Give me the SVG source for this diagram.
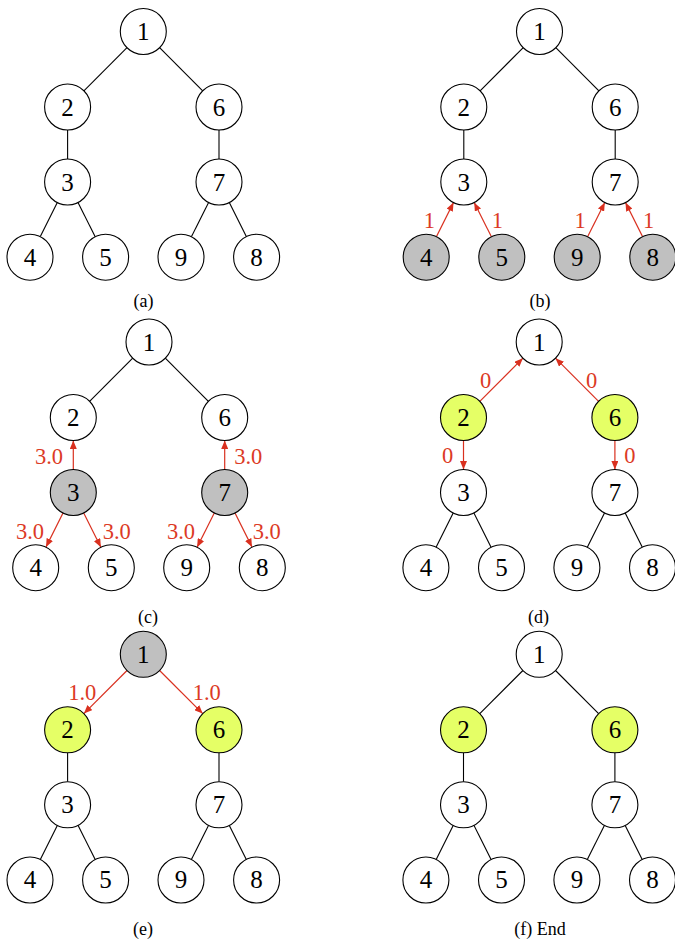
<svg xmlns="http://www.w3.org/2000/svg" width="675" height="947" viewBox="0 0 675 947">
  <style>
    .bg { fill: #ffffff; }
    .node circle { fill: #ffffff; stroke: #000000; stroke-width: 1.1; }
    .node.gray circle { fill: #c0c0c0; }
    .node.lime circle { fill: #e5ff66; }
    .node text { font-family: "Liberation Serif", "Times New Roman", serif; font-size: 25px; text-anchor: middle; fill: #000000; }
    .edge { stroke: #000000; stroke-width: 1.1; fill: none; }
    .arrow { stroke: #d9301f; stroke-width: 1.2; fill: none; marker-end: url(#head); }
    .w { font-family: "Liberation Serif", "Times New Roman", serif; font-size: 22.5px; text-anchor: middle; fill: #dc3a25; }
    .cap { font-family: "Liberation Serif", "Times New Roman", serif; font-size: 18px; text-anchor: middle; fill: #000000; }
  </style>
  <defs>
    <marker id="head" markerWidth="9" markerHeight="7" refX="8.5" refY="3.5" orient="auto" markerUnits="userSpaceOnUse">
      <path d="M0,0 L8.5,3.5 L0,7 z" fill="#d9301f"/>
    </marker>
  </defs>
  <rect class="bg" width="675" height="947"/>

  <!-- (a) plain tree -->
  <g id="panel-a" transform="translate(143.3,31.5)">
    <g id="a-connectors">
      <line class="edge" x1="-16.3" y1="16.2" x2="-59.4" y2="59.3"/>
      <line class="edge" x1="16.3" y1="16.2" x2="59.4" y2="59.3"/>
      <line class="edge" x1="-75.7" y1="98.5" x2="-75.7" y2="127.5"/>
      <line class="edge" x1="75.7" y1="98.5" x2="75.7" y2="127.5"/>
      <line class="edge" x1="-86" y1="171.1" x2="-103" y2="205.1"/>
      <line class="edge" x1="-65.3" y1="171" x2="-48.1" y2="205.2"/>
      <line class="edge" x1="65.3" y1="171" x2="48.1" y2="205.2"/>
      <line class="edge" x1="86" y1="171.1" x2="103" y2="205.1"/>
    </g>
    <g id="a-n1" class="node"><circle cx="0" cy="0" r="23"/><text x="0" y="8.5">1</text></g>
    <g id="a-n2" class="node"><circle cx="-75.7" cy="75.5" r="23"/><text x="-75.7" y="84">2</text></g>
    <g id="a-n6" class="node"><circle cx="75.7" cy="75.5" r="23"/><text x="75.7" y="84">6</text></g>
    <g id="a-n3" class="node"><circle cx="-75.7" cy="150.5" r="23"/><text x="-75.7" y="159">3</text></g>
    <g id="a-n7" class="node"><circle cx="75.7" cy="150.5" r="23"/><text x="75.7" y="159">7</text></g>
    <g id="a-n4" class="node"><circle cx="-113.3" cy="225.7" r="23"/><text x="-113.3" y="234.2">4</text></g>
    <g id="a-n5" class="node"><circle cx="-37.7" cy="225.7" r="23"/><text x="-37.7" y="234.2">5</text></g>
    <g id="a-n9" class="node"><circle cx="37.7" cy="225.7" r="23"/><text x="37.7" y="234.2">9</text></g>
    <g id="a-n8" class="node"><circle cx="113.3" cy="225.7" r="23"/><text x="113.3" y="234.2">8</text></g>
  </g>
  <text class="cap" x="143.5" y="307">(a)</text>

  <!-- (b) leaves send weight 1 to their parents -->
  <g id="panel-b" transform="translate(539.5,31.5)">
    <g id="b-connectors">
      <line class="edge" x1="-16.3" y1="16.2" x2="-59.4" y2="59.3"/>
      <line class="edge" x1="16.3" y1="16.2" x2="59.4" y2="59.3"/>
      <line class="edge" x1="-75.7" y1="98.5" x2="-75.7" y2="127.5"/>
      <line class="edge" x1="75.7" y1="98.5" x2="75.7" y2="127.5"/>
      <line class="arrow" x1="-103" y1="205.1" x2="-86" y2="171.1"/>
      <line class="arrow" x1="-48.1" y1="205.2" x2="-65.3" y2="171"/>
      <line class="arrow" x1="48.1" y1="205.2" x2="65.3" y2="171"/>
      <line class="arrow" x1="103" y1="205.1" x2="86" y2="171.1"/>
      <text class="w" x="-110.2" y="196">1</text>
      <text class="w" x="-42.2" y="196">1</text>
      <text class="w" x="40.5" y="196">1</text>
      <text class="w" x="109.2" y="196">1</text>
    </g>
    <g id="b-n1" class="node"><circle cx="0" cy="0" r="23"/><text x="0" y="8.5">1</text></g>
    <g id="b-n2" class="node"><circle cx="-75.7" cy="75.5" r="23"/><text x="-75.7" y="84">2</text></g>
    <g id="b-n6" class="node"><circle cx="75.7" cy="75.5" r="23"/><text x="75.7" y="84">6</text></g>
    <g id="b-n3" class="node"><circle cx="-75.7" cy="150.5" r="23"/><text x="-75.7" y="159">3</text></g>
    <g id="b-n7" class="node"><circle cx="75.7" cy="150.5" r="23"/><text x="75.7" y="159">7</text></g>
    <g id="b-n4" class="node gray"><circle cx="-113.3" cy="225.7" r="23"/><text x="-113.3" y="234.2">4</text></g>
    <g id="b-n5" class="node gray"><circle cx="-37.7" cy="225.7" r="23"/><text x="-37.7" y="234.2">5</text></g>
    <g id="b-n9" class="node gray"><circle cx="37.7" cy="225.7" r="23"/><text x="37.7" y="234.2">9</text></g>
    <g id="b-n8" class="node gray"><circle cx="113.3" cy="225.7" r="23"/><text x="113.3" y="234.2">8</text></g>
  </g>
  <text class="cap" x="540" y="307">(b)</text>

  <!-- (c) nodes 3 and 7 spread 3.0 to all neighbours -->
  <g id="panel-c" transform="translate(149,342)">
    <g id="c-connectors">
      <line class="edge" x1="-16.3" y1="16.2" x2="-59.4" y2="59.3"/>
      <line class="edge" x1="16.3" y1="16.2" x2="59.4" y2="59.3"/>
      <line class="arrow" x1="-75.7" y1="127.5" x2="-75.7" y2="98.5"/>
      <line class="arrow" x1="75.7" y1="127.5" x2="75.7" y2="98.5"/>
      <line class="arrow" x1="-86" y1="171.1" x2="-103" y2="205.1"/>
      <line class="arrow" x1="-65.3" y1="171" x2="-48.1" y2="205.2"/>
      <line class="arrow" x1="65.3" y1="171" x2="48.1" y2="205.2"/>
      <line class="arrow" x1="86" y1="171.1" x2="103" y2="205.1"/>
      <text class="w" x="-100" y="122.2">3.0</text>
      <text class="w" x="99.3" y="122.2">3.0</text>
      <text class="w" x="-119" y="197.2">3.0</text>
      <text class="w" x="-32.3" y="197.2">3.0</text>
      <text class="w" x="32" y="197.2">3.0</text>
      <text class="w" x="117.7" y="197.2">3.0</text>
    </g>
    <g id="c-n1" class="node"><circle cx="0" cy="0" r="23"/><text x="0" y="8.5">1</text></g>
    <g id="c-n2" class="node"><circle cx="-75.7" cy="75.5" r="23"/><text x="-75.7" y="84">2</text></g>
    <g id="c-n6" class="node"><circle cx="75.7" cy="75.5" r="23"/><text x="75.7" y="84">6</text></g>
    <g id="c-n3" class="node gray"><circle cx="-75.7" cy="150.5" r="23"/><text x="-75.7" y="159">3</text></g>
    <g id="c-n7" class="node gray"><circle cx="75.7" cy="150.5" r="23"/><text x="75.7" y="159">7</text></g>
    <g id="c-n4" class="node"><circle cx="-113.3" cy="225.7" r="23"/><text x="-113.3" y="234.2">4</text></g>
    <g id="c-n5" class="node"><circle cx="-37.7" cy="225.7" r="23"/><text x="-37.7" y="234.2">5</text></g>
    <g id="c-n9" class="node"><circle cx="37.7" cy="225.7" r="23"/><text x="37.7" y="234.2">9</text></g>
    <g id="c-n8" class="node"><circle cx="113.3" cy="225.7" r="23"/><text x="113.3" y="234.2">8</text></g>
  </g>
  <text class="cap" x="148" y="623">(c)</text>

  <!-- (d) nodes 2 and 6 pass 0 onward -->
  <g id="panel-d" transform="translate(539.2,342)">
    <g id="d-connectors">
      <line class="arrow" x1="-59.4" y1="59.3" x2="-16.3" y2="16.2"/>
      <line class="arrow" x1="59.4" y1="59.3" x2="16.3" y2="16.2"/>
      <line class="arrow" x1="-75.7" y1="98.5" x2="-75.7" y2="127.5"/>
      <line class="arrow" x1="75.7" y1="98.5" x2="75.7" y2="127.5"/>
      <line class="edge" x1="-86" y1="171.1" x2="-103" y2="205.1"/>
      <line class="edge" x1="-65.3" y1="171" x2="-48.1" y2="205.2"/>
      <line class="edge" x1="65.3" y1="171" x2="48.1" y2="205.2"/>
      <line class="edge" x1="86" y1="171.1" x2="103" y2="205.1"/>
      <text class="w" x="-53.5" y="46.2">0</text>
      <text class="w" x="52.5" y="46.2">0</text>
      <text class="w" x="-91.5" y="121.2">0</text>
      <text class="w" x="90.8" y="121.2">0</text>
    </g>
    <g id="d-n1" class="node"><circle cx="0" cy="0" r="23"/><text x="0" y="8.5">1</text></g>
    <g id="d-n2" class="node lime"><circle cx="-75.7" cy="75.5" r="23"/><text x="-75.7" y="84">2</text></g>
    <g id="d-n6" class="node lime"><circle cx="75.7" cy="75.5" r="23"/><text x="75.7" y="84">6</text></g>
    <g id="d-n3" class="node"><circle cx="-75.7" cy="150.5" r="23"/><text x="-75.7" y="159">3</text></g>
    <g id="d-n7" class="node"><circle cx="75.7" cy="150.5" r="23"/><text x="75.7" y="159">7</text></g>
    <g id="d-n4" class="node"><circle cx="-113.3" cy="225.7" r="23"/><text x="-113.3" y="234.2">4</text></g>
    <g id="d-n5" class="node"><circle cx="-37.7" cy="225.7" r="23"/><text x="-37.7" y="234.2">5</text></g>
    <g id="d-n9" class="node"><circle cx="37.7" cy="225.7" r="23"/><text x="37.7" y="234.2">9</text></g>
    <g id="d-n8" class="node"><circle cx="113.3" cy="225.7" r="23"/><text x="113.3" y="234.2">8</text></g>
  </g>
  <text class="cap" x="538.5" y="623">(d)</text>

  <!-- (e) root sends 1.0 down to 2 and 6 -->
  <g id="panel-e" transform="translate(143.3,654.3)">
    <g id="e-connectors">
      <line class="arrow" x1="-16.3" y1="16.2" x2="-59.4" y2="59.3"/>
      <line class="arrow" x1="16.3" y1="16.2" x2="59.4" y2="59.3"/>
      <line class="edge" x1="-75.7" y1="98.5" x2="-75.7" y2="127.5"/>
      <line class="edge" x1="75.7" y1="98.5" x2="75.7" y2="127.5"/>
      <line class="edge" x1="-86" y1="171.1" x2="-103" y2="205.1"/>
      <line class="edge" x1="-65.3" y1="171" x2="-48.1" y2="205.2"/>
      <line class="edge" x1="65.3" y1="171" x2="48.1" y2="205.2"/>
      <line class="edge" x1="86" y1="171.1" x2="103" y2="205.1"/>
      <text class="w" x="-61" y="45.9">1.0</text>
      <text class="w" x="63.4" y="45.9">1.0</text>
    </g>
    <g id="e-n1" class="node gray"><circle cx="0" cy="0" r="23"/><text x="0" y="8.5">1</text></g>
    <g id="e-n2" class="node lime"><circle cx="-75.7" cy="75.5" r="23"/><text x="-75.7" y="84">2</text></g>
    <g id="e-n6" class="node lime"><circle cx="75.7" cy="75.5" r="23"/><text x="75.7" y="84">6</text></g>
    <g id="e-n3" class="node"><circle cx="-75.7" cy="150.5" r="23"/><text x="-75.7" y="159">3</text></g>
    <g id="e-n7" class="node"><circle cx="75.7" cy="150.5" r="23"/><text x="75.7" y="159">7</text></g>
    <g id="e-n4" class="node"><circle cx="-113.3" cy="225.7" r="23"/><text x="-113.3" y="234.2">4</text></g>
    <g id="e-n5" class="node"><circle cx="-37.7" cy="225.7" r="23"/><text x="-37.7" y="234.2">5</text></g>
    <g id="e-n9" class="node"><circle cx="37.7" cy="225.7" r="23"/><text x="37.7" y="234.2">9</text></g>
    <g id="e-n8" class="node"><circle cx="113.3" cy="225.7" r="23"/><text x="113.3" y="234.2">8</text></g>
  </g>
  <text class="cap" x="143" y="935">(e)</text>

  <!-- (f) final state -->
  <g id="panel-f" transform="translate(539.2,654.3)">
    <g id="f-connectors">
      <line class="edge" x1="-16.3" y1="16.2" x2="-59.4" y2="59.3"/>
      <line class="edge" x1="16.3" y1="16.2" x2="59.4" y2="59.3"/>
      <line class="edge" x1="-75.7" y1="98.5" x2="-75.7" y2="127.5"/>
      <line class="edge" x1="75.7" y1="98.5" x2="75.7" y2="127.5"/>
      <line class="edge" x1="-86" y1="171.1" x2="-103" y2="205.1"/>
      <line class="edge" x1="-65.3" y1="171" x2="-48.1" y2="205.2"/>
      <line class="edge" x1="65.3" y1="171" x2="48.1" y2="205.2"/>
      <line class="edge" x1="86" y1="171.1" x2="103" y2="205.1"/>
    </g>
    <g id="f-n1" class="node"><circle cx="0" cy="0" r="23"/><text x="0" y="8.5">1</text></g>
    <g id="f-n2" class="node lime"><circle cx="-75.7" cy="75.5" r="23"/><text x="-75.7" y="84">2</text></g>
    <g id="f-n6" class="node lime"><circle cx="75.7" cy="75.5" r="23"/><text x="75.7" y="84">6</text></g>
    <g id="f-n3" class="node"><circle cx="-75.7" cy="150.5" r="23"/><text x="-75.7" y="159">3</text></g>
    <g id="f-n7" class="node"><circle cx="75.7" cy="150.5" r="23"/><text x="75.7" y="159">7</text></g>
    <g id="f-n4" class="node"><circle cx="-113.3" cy="225.7" r="23"/><text x="-113.3" y="234.2">4</text></g>
    <g id="f-n5" class="node"><circle cx="-37.7" cy="225.7" r="23"/><text x="-37.7" y="234.2">5</text></g>
    <g id="f-n9" class="node"><circle cx="37.7" cy="225.7" r="23"/><text x="37.7" y="234.2">9</text></g>
    <g id="f-n8" class="node"><circle cx="113.3" cy="225.7" r="23"/><text x="113.3" y="234.2">8</text></g>
  </g>
  <text class="cap" x="540" y="935">(f) End</text>
</svg>
